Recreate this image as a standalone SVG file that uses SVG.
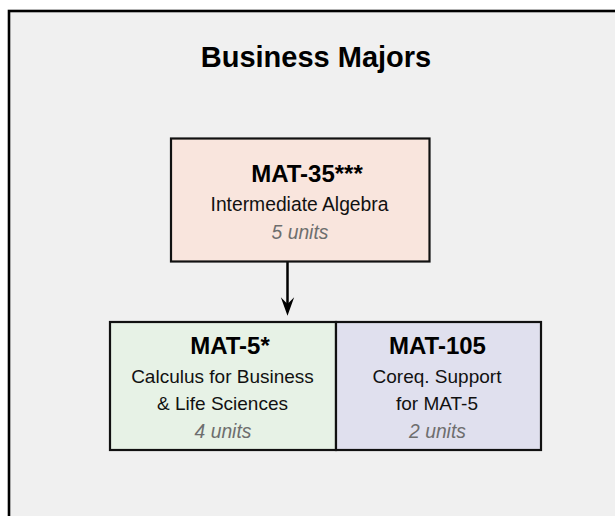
<svg xmlns="http://www.w3.org/2000/svg" width="615" height="516" viewBox="0 0 615 516">
<style>
text{font-family:"Liberation Sans",Arial,sans-serif;text-anchor:middle}
.code{font-weight:bold;font-size:24px;fill:#000}
.name{font-size:19px;fill:#111}
.units{font-size:19.3px;font-style:italic;fill:#6e6e6e}
.box{stroke:#111;stroke-width:2.2}
</style>
<defs>
<marker id="ah" markerUnits="userSpaceOnUse" markerWidth="20" markerHeight="26" refX="16" refY="8" orient="auto" viewBox="0 0 24 16">
<path d="M24,8 L2,0 L10,8 L2,16 Z" fill="#000"/>
</marker>
</defs>
<rect x="0" y="0" width="615" height="516" fill="#fff"/>
<rect id="frame" x="9" y="11" width="700" height="600" fill="#f0f0f0" stroke="#000" stroke-width="2.6"/>
<text x="316" y="67" style="font-weight:bold;font-size:29px;fill:#000">Business Majors</text>
<g id="connectors">
<line x1="287.5" y1="262" x2="287.5" y2="309" stroke="#000" stroke-width="2.5" marker-end="url(#ah)"/>
</g>
<g id="mat35">
<rect class="box" x="171" y="138.5" width="258.5" height="123" fill="#f9e5dd"/>
<text class="code" x="307" y="182">MAT-35***</text>
<text class="name" x="299.5" y="211" style="font-size:19.3px">Intermediate Algebra</text>
<text class="units" x="300" y="239">5 units</text>
</g>
<g id="mat5">
<rect class="box" x="110" y="322" width="226" height="128" fill="#e7f2e6"/>
<text class="code" x="230" y="354">MAT-5*</text>
<text class="name" x="222.5" y="382.5">Calculus for Business</text>
<text class="name" x="222.5" y="410">&amp; Life Sciences</text>
<text class="units" x="223" y="438">4 units</text>
</g>
<g id="mat105">
<rect class="box" x="336" y="322" width="205" height="128" fill="#e0e0ee"/>
<text class="code" x="437.5" y="354">MAT-105</text>
<text class="name" x="437" y="382.5">Coreq. Support</text>
<text class="name" x="437" y="410">for MAT-5</text>
<text class="units" x="437.5" y="438">2 units</text>
</g>
</svg>
